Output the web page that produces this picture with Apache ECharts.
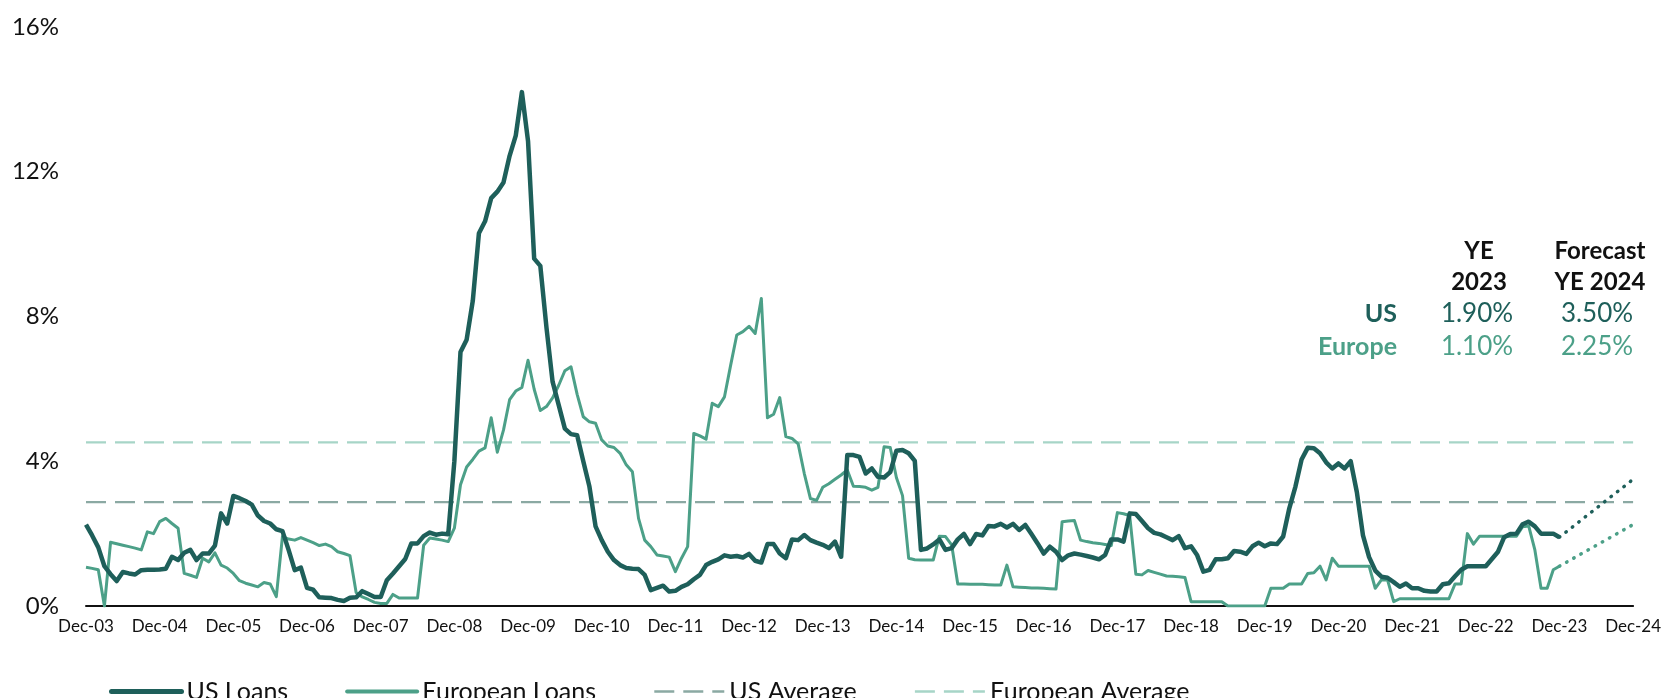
<!DOCTYPE html>
<html>
<head>
<meta charset="utf-8">
<script src="https://cdn.jsdelivr.net/npm/echarts@6/dist/echarts.min.js"></script>
<style>
html,body{margin:0;padding:0;background:#fff;}
#chart{width:1664px;height:698px;}
</style>
</head>
<body>
<div id="chart"></div>
<script>
// ---- Data (monthly, Dec-03 .. Dec-23) ----
const monthNames = ['Dec','Jan','Feb','Mar','Apr','May','Jun','Jul','Aug','Sep','Oct','Nov'];
const startYear = 2003, endYear = 2024;
const yTicks = [0, 4, 8, 12, 16];

const usLoans = [
  2.25,
  1.95, 1.62, 1.1, 0.88, 0.69, 0.94, 0.9, 0.87, 0.99, 1.0, 1.0, 1.01,
  1.03, 1.36, 1.27, 1.47, 1.55, 1.27, 1.45, 1.45, 1.67, 2.56, 2.28, 3.04,
  2.98, 2.9, 2.8, 2.5, 2.35, 2.28, 2.12, 2.07, 1.55, 0.99, 1.06, 0.5,
  0.45, 0.24, 0.23, 0.22, 0.17, 0.14, 0.23, 0.24, 0.41, 0.33, 0.25, 0.25,
  0.71, 0.9, 1.1, 1.3, 1.73, 1.73, 1.93, 2.03, 1.97, 2.0, 1.98, 4.0,
  7.02, 7.36, 8.43, 10.3, 10.63, 11.27, 11.45, 11.7, 12.44, 13.0, 14.2, 12.85,
  9.6, 9.4, 7.7, 6.2, 5.55, 4.9, 4.75, 4.72, 4.0, 3.3, 2.2, 1.82,
  1.5, 1.27, 1.13, 1.05, 1.03, 1.02, 0.86, 0.44, 0.5, 0.56, 0.4, 0.42,
  0.53, 0.6, 0.74, 0.86, 1.13, 1.22, 1.29, 1.4, 1.36, 1.38, 1.34, 1.44,
  1.25, 1.2, 1.71, 1.71, 1.45, 1.32, 1.84, 1.82, 1.96, 1.82, 1.75, 1.69,
  1.6, 1.78, 1.36, 4.17, 4.17, 4.12, 3.66, 3.8, 3.57, 3.55, 3.7, 4.29,
  4.31, 4.22, 4.01, 1.55, 1.59, 1.7, 1.84, 1.55, 1.6, 1.84, 1.99, 1.71,
  1.99, 1.95, 2.21, 2.2, 2.27, 2.17, 2.27, 2.1, 2.24, 1.99, 1.73, 1.45,
  1.64, 1.5, 1.27, 1.4, 1.45, 1.42, 1.38, 1.34, 1.29, 1.41, 1.84, 1.84,
  1.78, 2.56, 2.54, 2.35, 2.15, 2.02, 1.98, 1.9, 1.82, 1.93, 1.6, 1.65,
  1.4, 0.95, 1.0, 1.29, 1.29, 1.32, 1.52, 1.5, 1.44, 1.65, 1.75, 1.65,
  1.73, 1.71, 1.92, 2.7, 3.3, 4.05, 4.37, 4.36, 4.22, 3.97, 3.8, 3.94,
  3.8, 4.0, 3.15, 1.95, 1.35, 0.98, 0.81, 0.78, 0.66, 0.53, 0.62, 0.49,
  0.49, 0.42, 0.4, 0.4, 0.6, 0.63, 0.82, 1.0, 1.1, 1.1, 1.1, 1.1,
  1.3, 1.5, 1.9, 1.99, 2.0, 2.26, 2.33, 2.2, 2.0, 2.0, 2.0, 1.9
];

const europeanLoans = [
  1.07,
  1.04, 1.0, 0.0, 1.76, 1.72, 1.68, 1.64, 1.6, 1.55, 2.05, 2.0, 2.33,
  2.42, 2.28, 2.15, 0.9, 0.85, 0.79, 1.32, 1.22, 1.47, 1.13, 1.05, 0.9,
  0.7, 0.63, 0.58, 0.53, 0.65, 0.61, 0.26, 1.92, 1.85, 1.82, 1.89, 1.82,
  1.75, 1.67, 1.71, 1.64, 1.5, 1.45, 1.39, 0.37, 0.25, 0.18, 0.1, 0.07,
  0.07, 0.32, 0.22, 0.22, 0.22, 0.22, 1.68, 1.88, 1.85, 1.82, 1.78, 2.15,
  3.35, 3.84, 4.05, 4.28, 4.37, 5.2, 4.25, 4.86, 5.7, 5.94, 6.04, 6.79,
  5.99, 5.4, 5.51, 5.75, 6.1, 6.5, 6.61, 5.85, 5.23, 5.09, 5.05, 4.59,
  4.42, 4.38, 4.22, 3.9, 3.71, 2.42, 1.82, 1.64, 1.41, 1.38, 1.35, 0.95,
  1.32, 1.64, 4.77, 4.7, 4.61, 5.6, 5.51, 5.78, 6.65, 7.49, 7.58, 7.73,
  7.53, 8.5, 5.2, 5.3, 5.76, 4.68, 4.63, 4.48, 3.66, 2.97, 2.92, 3.28,
  3.38, 3.5, 3.62, 3.76, 3.31, 3.3, 3.28, 3.2, 3.28, 4.4, 4.38, 3.55,
  3.05, 1.32, 1.28, 1.27, 1.27, 1.27, 1.93, 1.92, 1.69, 0.61, 0.61, 0.6,
  0.6, 0.6, 0.59, 0.58, 0.58, 1.13, 0.53, 0.52, 0.51, 0.5, 0.5, 0.49,
  0.48, 0.47, 2.33, 2.35, 2.36, 1.82, 1.78, 1.75, 1.73, 1.7, 1.67, 2.58,
  2.55, 2.5, 0.88, 0.86, 0.98, 0.93, 0.88, 0.83, 0.82, 0.81, 0.79, 0.12,
  0.12, 0.12, 0.12, 0.12, 0.12, 0.0, 0.0, 0.0, 0.0, 0.0, 0.0, 0.0,
  0.49, 0.49, 0.49, 0.61, 0.61, 0.61, 0.9, 0.92, 1.1, 0.72, 1.32, 1.1,
  1.1, 1.1, 1.1, 1.1, 1.1, 0.49, 0.72, 0.72, 0.12, 0.2, 0.2, 0.2,
  0.2, 0.2, 0.2, 0.2, 0.2, 0.2, 0.61, 0.61, 2.0, 1.71, 1.93, 1.93,
  1.93, 1.93, 1.93, 1.93, 1.93, 2.19, 2.21, 1.55, 0.49, 0.49, 1.0, 1.1
];

// Forecast: YE 2023 actual -> YE 2024 forecast
const forecastPoints = ['Dec-23', 'Dec-24'];
const usForecast = [1.90, 3.50];
const europeForecast = [1.10, 2.25];

// Long-run averages
const usAverage = 2.87;
const europeanAverage = 4.52;

// Table text
const tableHeaders = [['YE', '2023'], ['Forecast', 'YE 2024']];
const tableRows = [
  { name: 'US', ye2023: '1.90%', ye2024: '3.50%' },
  { name: 'Europe', ye2023: '1.10%', ye2024: '2.25%' }
];

// ---- Build categories ----
const categories = [];
for (let y = startYear; y <= endYear; y++) {
  const yy = String(y % 100).padStart(2, '0');
  const yyNext = String((y + 1) % 100).padStart(2, '0');
  categories.push('Dec-' + yy);
  if (y < endYear) {
    for (let m = 1; m < 12; m++) categories.push(monthNames[m] + '-' + yyNext);
  }
}

const C_US = '#1e5f5a';
const C_EU = '#4ca088';
const C_US_AVG = '#8ba9a3';
const C_EU_AVG = '#a7d5c7';
const FONT = 'Lato';

const lastIdx = categories.length - 1;
const avgData = v => [[0, v], [lastIdx, v]];
const fcData = vals => forecastPoints.map((c, k) => [categories.indexOf(c), vals[k]]);

const chart = echarts.init(document.getElementById('chart'), null, { renderer: 'canvas' });

const colUS = 1479, colFc = 1600, rowRight = 1397;
const graphics = [];
tableHeaders.forEach((h, k) => {
  const x = k === 0 ? colUS : colFc;
  graphics.push({ type: 'text', x: x, y: 251, z: 100,
    style: { text: h[0], font: 'bold 24px ' + FONT, fill: '#111', align: 'center', verticalAlign: 'middle' } });
  graphics.push({ type: 'text', x: x, y: 282, z: 100,
    style: { text: h[1], font: 'bold 24px ' + FONT, fill: '#111', align: 'center', verticalAlign: 'middle' } });
});
tableRows.forEach((r, k) => {
  const y = 313.5 + k * 33;
  const col = k === 0 ? C_US : C_EU;
  graphics.push({ type: 'text', x: rowRight, y: y, z: 100,
    style: { text: r.name, font: 'bold 25px ' + FONT, fill: col, align: 'right', verticalAlign: 'middle' } });
  graphics.push({ type: 'text', x: colUS - 2, y: y, z: 100,
    style: { text: r.ye2023, font: '26px ' + FONT, fill: col, align: 'center', verticalAlign: 'middle' } });
  graphics.push({ type: 'text', x: colFc - 3, y: y, z: 100,
    style: { text: r.ye2024, font: '26px ' + FONT, fill: col, align: 'center', verticalAlign: 'middle' } });
});

const option = {
  animation: false,
  textStyle: { fontFamily: FONT },
  grid: { left: 86, right: 27, top: 27, bottom: 92, containLabel: false },
  legend: {
    data: [
      { name: 'US Loans', lineStyle: { width: 5, cap: 'round' } },
      { name: 'European Loans', lineStyle: { width: 4, cap: 'round' } },
      { name: 'US Average', lineStyle: { width: 2.5 } },
      { name: 'European Average', lineStyle: { width: 2.5 } }
    ],
    left: 104, top: 674,
    itemWidth: 70, itemHeight: 14, itemGap: 57,
    itemStyle: { opacity: 0 },
    textStyle: { fontSize: 25, color: '#111', fontFamily: FONT }
  },
  xAxis: {
    type: 'category',
    data: categories,
    boundaryGap: false,
    axisLine: { show: true, lineStyle: { color: '#111', width: 2 } },
    axisTick: { show: false },
    axisLabel: {
      interval: function (idx) { return idx % 12 === 0; },
      color: '#111', fontSize: 17, margin: 12, fontFamily: FONT
    },
    splitLine: { show: false }
  },
  yAxis: {
    type: 'value',
    min: yTicks[0], max: yTicks[yTicks.length - 1], interval: 4,
    axisLine: { show: false }, axisTick: { show: false },
    splitLine: { show: false },
    axisLabel: { formatter: '{value}%', color: '#111', fontSize: 24, margin: 27, fontFamily: FONT }
  },
  series: [
    {
      name: 'US Average', type: 'line', data: avgData(usAverage), symbol: 'none',
      lineStyle: { color: C_US_AVG, width: 2.2, type: [20, 9] }, itemStyle: { color: C_US_AVG }, z: 1, silent: true
    },
    {
      name: 'European Average', type: 'line', data: avgData(europeanAverage), symbol: 'none',
      lineStyle: { color: C_EU_AVG, width: 2.2, type: [20, 9] }, itemStyle: { color: C_EU_AVG }, z: 1, silent: true
    },
    {
      name: 'European Loans', type: 'line', data: europeanLoans, symbol: 'none',
      lineStyle: { color: C_EU, width: 3, join: 'round' }, itemStyle: { color: C_EU }, z: 3
    },
    {
      name: 'US Loans', type: 'line', data: usLoans, symbol: 'none',
      lineStyle: { color: C_US, width: 4.5, join: 'round' }, itemStyle: { color: C_US }, z: 4
    },
    {
      name: 'US Forecast', type: 'line', data: fcData(usForecast), symbol: 'none',
      lineStyle: { color: C_US, width: 3.5, type: [0.5, 7.7], cap: 'round' }, z: 4
    },
    {
      name: 'Europe Forecast', type: 'line', data: fcData(europeForecast), symbol: 'none',
      lineStyle: { color: C_EU, width: 3.5, type: [0.5, 7.7], cap: 'round' }, z: 3
    }
  ],
  graphic: graphics
};
chart.setOption(option);
</script>
</body>
</html>
